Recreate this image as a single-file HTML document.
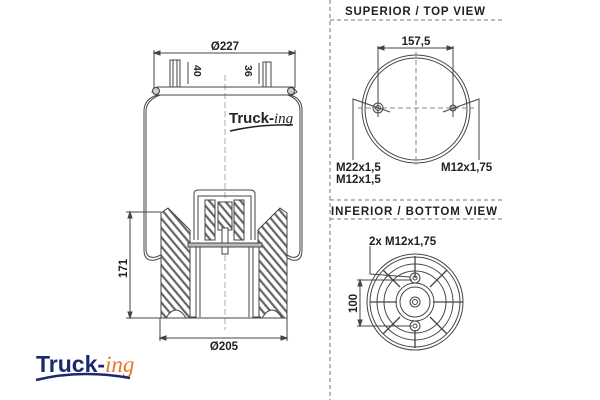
<!DOCTYPE html>
<html><head><meta charset="utf-8"><style>
html,body{margin:0;padding:0;background:#fff;width:600px;height:400px;overflow:hidden}
svg{display:block}
text{font-family:"Liberation Sans",sans-serif;font-weight:bold;fill:#222}
</style></head><body>
<svg width="600" height="400" viewBox="0 0 600 400" xmlns="http://www.w3.org/2000/svg">
<defs>
<pattern id="h" width="6" height="6" patternUnits="userSpaceOnUse" patternTransform="rotate(-40)">
<rect width="6" height="6" fill="#fff"/><rect width="2.2" height="6" fill="#666"/>
</pattern>
</defs>
<g fill="none" stroke="#444" stroke-width="1">
<line x1="225" y1="75" x2="225" y2="330" stroke-dasharray="6,3" stroke="#999" stroke-width="0.8"/>
<line x1="154" y1="53" x2="295" y2="53"/>
<line x1="154" y1="50" x2="154" y2="88"/><line x1="295" y1="50" x2="295" y2="88"/>
<path d="M154 53l6-2v4zM295 53l-6-2v4z" fill="#444"/>
<rect x="170" y="60" width="10" height="27"/><line x1="173" y1="60" x2="173" y2="87"/><line x1="177" y1="60" x2="177" y2="87"/>
<rect x="263" y="62" width="8" height="25"/><line x1="266" y1="62" x2="266" y2="87"/>
<line x1="188" y1="62" x2="188" y2="84"/><line x1="259" y1="63" x2="259" y2="84"/>
<path d="M157 87 L293 87 L297 92 L292 95 L158 95 L152 92 Z"/>
<circle cx="156" cy="91" r="3.5" fill="#ccc"/><circle cx="291" cy="91" r="3.5" fill="#ccc"/>
<path d="M158 95 Q145 98 144 110 L144 250 Q144 262 155 260 L161 258"/>
<path d="M160 95 Q147 100 146 110 L146 249 Q146 259 156 257 L161 255"/>
<path d="M290 95 Q302 98 302 110 L302 250 Q302 262 292 260 L287 258"/>
<path d="M288 95 Q300 100 300 110 L300 249 Q300 259 291 257 L287 255"/>
<path d="M161 213 L168 208 L190 230 L190 318 L161 318 Z" fill="url(#h)"/>
<path d="M287 213 L280 208 L258 230 L258 318 L287 318 Z" fill="url(#h)"/>
<path d="M166 318 Q176 302 186 318 Z" fill="#fff"/><path d="M262 318 Q272 302 282 318 Z" fill="#fff"/>
<line x1="161" y1="318" x2="287" y2="318"/>
<path d="M194 240 L194 194 Q194 190 198 190 L250 190 Q255 190 255 194 L255 240"/>
<path d="M198 240 L198 196 L251 196 L251 240"/>
<rect x="205" y="200" width="10" height="40" fill="url(#h)"/><rect x="234" y="200" width="10" height="40" fill="url(#h)"/>
<rect x="218" y="202" width="14" height="28" fill="url(#h)"/>
<rect x="222" y="228" width="6" height="26" fill="#fff"/>
<path d="M188 243 L262 243 L262 247 L188 247 Z" fill="#bbb"/>
<rect x="190" y="247" width="6" height="70" fill="#fff"/><rect x="253" y="247" width="6" height="70" fill="#fff"/>
<line x1="200" y1="247" x2="200" y2="317"/><line x1="249" y1="247" x2="249" y2="317"/>
<line x1="130" y1="212" x2="130" y2="318"/>
<line x1="126" y1="212" x2="161" y2="212"/><line x1="126" y1="318" x2="161" y2="318"/>
<path d="M130 212l-2 6h4zM130 318l-2-6h4z" fill="#444"/>
<line x1="160" y1="338" x2="287" y2="338"/>
<line x1="160" y1="318" x2="160" y2="341"/><line x1="287" y1="318" x2="287" y2="341"/>
<path d="M160 338l6-2v4zM287 338l-6-2v4z" fill="#444"/>
<line x1="330" y1="0" x2="330" y2="400" stroke-dasharray="4,3" stroke="#777"/>
<line x1="330" y1="20" x2="503" y2="20" stroke-dasharray="4,3" stroke="#777"/>
<line x1="330" y1="200" x2="503" y2="200" stroke-dasharray="4,3" stroke="#777"/>
<line x1="330" y1="219" x2="503" y2="219" stroke-dasharray="4,3" stroke="#777"/>
<circle cx="416" cy="109" r="54"/><circle cx="416" cy="109" r="51"/>
<line x1="416" y1="52" x2="416" y2="165" stroke-dasharray="5,3" stroke="#888"/>
<line x1="358" y1="108" x2="474" y2="108" stroke-dasharray="5,3" stroke="#888"/>
<line x1="378" y1="48" x2="453" y2="48"/><line x1="378" y1="46" x2="378" y2="117"/><line x1="453" y1="46" x2="453" y2="117"/>
<path d="M378 48l6-2v4zM453 48l-6-2v4z" fill="#444"/>
<circle cx="378" cy="108" r="5"/><circle cx="378" cy="108" r="2.5"/><circle cx="453" cy="108" r="3" fill="#aaa"/>
<path d="M353 160 L353 99 L390 112"/><path d="M479 160 L479 99 L443 112"/>
<circle cx="415" cy="302" r="48"/><circle cx="415" cy="302" r="45"/>
<circle cx="415" cy="302" r="38"/><circle cx="415" cy="302" r="31"/>
<circle cx="415" cy="302" r="19"/><circle cx="415" cy="302" r="15"/>
<circle cx="415" cy="302" r="5"/><circle cx="415" cy="302" r="2.5"/>
<circle cx="415" cy="278" r="5"/><circle cx="415" cy="278" r="2"/>
<circle cx="415" cy="326" r="5"/><circle cx="415" cy="326" r="2"/>
<path d="M415 256v22M415 330v18M370 302h27M433 302h30M383 270l17 17M447 270l-17 17M383 334l17-17M447 334l-17-17" stroke-width="1.3"/>
<path d="M370 246 L370 274 L410 277"/>
<line x1="360" y1="280" x2="360" y2="326"/>
<line x1="357" y1="280" x2="412" y2="280"/><line x1="357" y1="326" x2="412" y2="326"/>
<path d="M360 280l-2 6h4zM360 326l-2-6h4z" fill="#444"/>
</g>
<text x="225" y="50" font-size="11.5" text-anchor="middle">Ø227</text>
<text x="224" y="343" font-size="11.5" text-anchor="middle" dy="7">Ø205</text>
<text font-size="10.5" transform="translate(194,65) rotate(90)">40</text>
<text font-size="10.5" transform="translate(245,65) rotate(90)">36</text>
<text font-size="11.5" transform="translate(127,278) rotate(-90)">171</text>
<text x="229" y="123" font-size="15" style="fill:#222">Truck-<tspan font-style="italic" font-weight="normal" font-family="Liberation Serif">ing</tspan></text>
<path d="M230 131 Q260 124 293 125" stroke="#222" stroke-width="1.5" fill="none"/>
<text x="345" y="15" font-size="11.5" textLength="140">SUPERIOR / TOP VIEW</text>
<text x="416" y="45" font-size="11.5" text-anchor="middle">157,5</text>
<text x="336" y="171" font-size="11.5">M22x1,5</text>
<text x="336" y="183" font-size="11.5">M12x1,5</text>
<text x="441" y="171" font-size="11.5">M12x1,75</text>
<text x="331" y="215" font-size="11.5" textLength="166">INFERIOR / BOTTOM VIEW</text>
<text x="369" y="245" font-size="11.5">2x M12x1,75</text>
<text font-size="11.5" transform="translate(357,313) rotate(-90)">100</text>
<text x="36" y="372" font-size="23" style="fill:#1b2a6e" font-weight="bold">Truck-<tspan style="fill:#e8772a" font-style="italic" font-weight="normal" font-family="Liberation Serif">ing</tspan></text>
<path d="M36 380 Q80 369 130 378" stroke="#1b2a6e" stroke-width="2.5" fill="none"/>
</svg>
</body></html>
